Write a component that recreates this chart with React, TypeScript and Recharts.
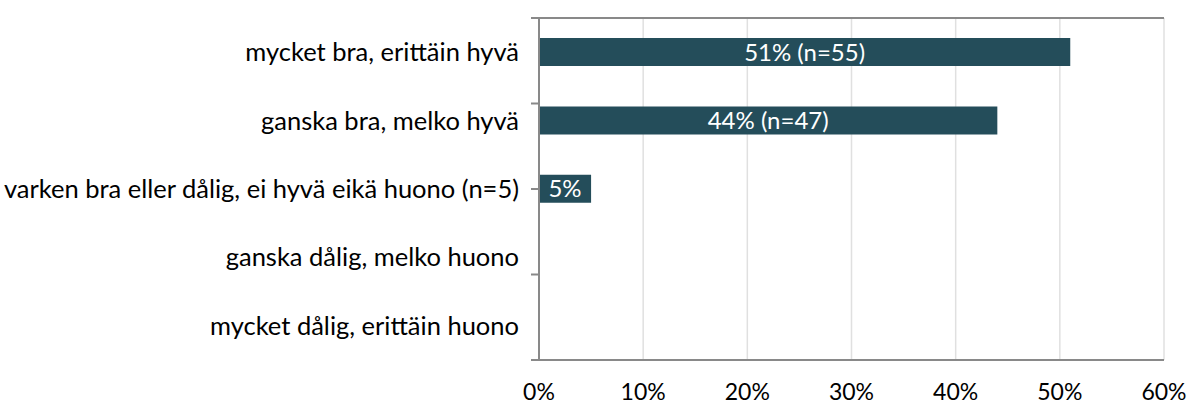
import { BarChart, Bar, XAxis, YAxis, CartesianGrid, LabelList } from 'recharts'

const categories = [
  'mycket bra, erittäin hyvä',
  'ganska bra, melko hyvä',
  'varken bra eller dålig, ei hyvä eikä huono (n=5)',
  'ganska dålig, melko huono',
  'mycket dålig, erittäin huono',
]
const values = [51, 44, 5, 0, 0]
const barLabels = ['51% (n=55)', '44% (n=47)', '5%', '', '']
const xTicks = [0, 10, 20, 30, 40, 50, 60]
const bandEdges = [0, 1, 2, 3, 4, 5]

const data = categories.map((name, i) => ({ name, value: values[i], label: barLabels[i] }))

const FONT = 'Lato, "Open Sans", sans-serif'
const AXIS = '#898989'
const noLabel = () => <g />

export default function App() {
  return (
    <div style={{ position: 'absolute', left: 0, top: 0, fontFamily: FONT }}>
      <BarChart
        layout="vertical"
        width={1195}
        height={406}
        data={data}
        margin={{ top: 0, right: 31, bottom: 0, left: 0 }}
        style={{ fontFamily: FONT }}
      >
        <CartesianGrid horizontal={false} stroke="#e0e0e0" strokeWidth={1.5} />
        <XAxis
          xAxisId="top"
          orientation="top"
          type="number"
          domain={[0, 60]}
          ticks={xTicks}
          tick={noLabel}
          tickSize={8}
          tickLine={{ stroke: AXIS, strokeWidth: 2 }}
          axisLine={{ stroke: AXIS, strokeWidth: 2 }}
          height={18}
        />
        <XAxis
          type="number"
          domain={[0, 60]}
          ticks={xTicks}
          tickFormatter={(v) => `${v}%`}
          tickLine={false}
          tickSize={0}
          tickMargin={24}
          axisLine={{ stroke: AXIS, strokeWidth: 2 }}
          tick={{ fill: '#000', fontSize: 23 }}
          height={46}
        />
        <YAxis
          yAxisId="b_cat"
          type="category"
          dataKey="name"
          axisLine={false}
          tickLine={false}
          tickSize={0}
          tickMargin={12}
          tick={{ fill: '#000', fontSize: 25.5 }}
          width={531}
          interval={0}
        />
        <YAxis
          yAxisId="a_edges"
          type="number"
          domain={[0, 5]}
          ticks={bandEdges}
          tick={noLabel}
          tickSize={8}
          tickLine={{ stroke: AXIS, strokeWidth: 2 }}
          axisLine={{ stroke: AXIS, strokeWidth: 2 }}
          width={8}
        />
        <YAxis
          yAxisId="right"
          orientation="right"
          type="number"
          domain={[0, 5]}
          tick={false}
          tickLine={false}
          axisLine={{ stroke: AXIS, strokeWidth: 2 }}
          width={0}
        />
        <Bar dataKey="value" yAxisId="b_cat" fill="#244d5a" barSize={28} isAnimationActive={false}>
          <LabelList dataKey="label" position="center" fill="#fff" fontSize={24} />
        </Bar>
      </BarChart>
    </div>
  )
}
